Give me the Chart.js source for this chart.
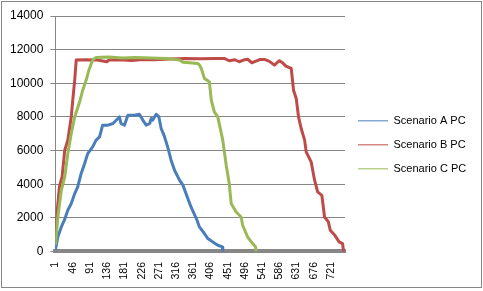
<!DOCTYPE html>
<html>
<head>
<meta charset="utf-8">
<script src="https://cdn.jsdelivr.net/npm/chart.js@4.4.1/dist/chart.umd.min.js"></script>
<style>
  body { margin: 0; background: #fff; }
  #wrap { position: relative; width: 483px; height: 291px; }
  #frame { position: absolute; left: 1px; top: 1px; width: 479px; height: 285px; border: 1px solid #868686; pointer-events: none; }
</style>
</head>
<body>
<div id="wrap">
  <canvas id="chart" width="483" height="291"></canvas>
  <div id="frame"></div>
</div>
<script>
// tick labels
const xTicks = [1, 46, 91, 136, 181, 226, 271, 316, 361, 406, 451, 496, 541, 586, 631, 676, 721];
const yTicks = [0, 2000, 4000, 6000, 8000, 10000, 12000, 14000];

// Scenario A PC (category index, value)
const scenA_x = [1, 7, 16, 24, 33, 42, 51, 59, 68, 77, 85, 98, 107, 116, 124, 138, 151, 164, 168, 172, 181, 190, 207, 220, 229, 238, 247, 251, 255, 264, 271, 277, 286, 294, 303, 312, 325, 334, 342, 355, 369, 377, 390, 399, 412, 425, 437, 438];
const scenA_y = [170, 860, 1460, 1860, 2450, 2850, 3440, 3840, 4640, 5230, 5820, 6220, 6620, 6810, 7510, 7510, 7610, 7910, 8000, 7610, 7510, 8100, 8100, 8160, 7810, 7510, 7610, 7910, 7810, 8160, 8000, 7310, 6810, 6220, 5430, 4830, 4240, 3940, 3440, 2650, 1960, 1460, 1070, 770, 570, 370, 270, 0];

// Scenario B PC
const scenB_x = [1, 4, 11, 18, 25, 33, 42, 46, 51, 55, 80, 110, 135, 140, 170, 200, 230, 260, 300, 340, 380, 420, 442, 455, 470, 481, 492, 503, 514, 525, 536, 547, 560, 573, 586, 595, 603, 617, 623, 630, 636, 643, 652, 656, 669, 678, 686, 697, 704, 714, 719, 731, 742, 751, 754];
const scenB_y = [900, 2050, 3840, 4430, 6020, 6620, 8000, 9000, 10190, 11380, 11400, 11380, 11280, 11380, 11400, 11350, 11420, 11400, 11450, 11480, 11460, 11480, 11480, 11340, 11400, 11280, 11380, 11430, 11220, 11320, 11420, 11420, 11300, 11080, 11340, 11200, 11020, 10880, 9590, 9100, 8000, 7310, 6620, 5920, 5330, 4240, 3540, 3340, 2050, 1760, 1260, 960, 570, 470, 0];

// Scenario C PC
const scenC_x = [1, 7, 16, 25, 33, 42, 51, 64, 72, 81, 88, 98, 107, 140, 175, 210, 250, 290, 325, 334, 351, 373, 377, 382, 390, 403, 408, 416, 425, 438, 447, 455, 460, 473, 486, 490, 503, 516, 524, 525];
const scenC_y = [470, 2050, 3640, 4430, 5820, 7010, 8000, 8900, 9590, 10190, 10780, 11380, 11540, 11560, 11500, 11540, 11500, 11480, 11380, 11250, 11220, 11180, 11080, 10880, 10290, 10090, 9000, 8300, 8000, 6620, 5130, 4040, 2850, 2350, 2050, 1560, 860, 470, 270, 0];

function toPoints(xs, ys) {
    return xs.map((x, i) => ({x: x, y: ys[i]}));
}

const gridGray = '#868686';

// the right legend box is capped at a quarter of the width, let its text run to the edge
const legendRoom = {
    id: 'legendRoom',
    afterLayout(chart) {
        chart.legend.right = chart.width;
        chart.legend.width = chart.legend.right - chart.legend.left;
    }
};

const data = {
    datasets: [
        { label: 'Scenario A PC', data: toPoints(scenA_x, scenA_y), borderColor: '#4a7ebb', backgroundColor: '#4a7ebb', order: 3 },
        { label: 'Scenario B PC', data: toPoints(scenB_x, scenB_y), borderColor: '#be4b48', backgroundColor: '#be4b48', order: 2 },
        { label: 'Scenario C PC', data: toPoints(scenC_x, scenC_y), borderColor: '#98b954', backgroundColor: '#98b954', order: 1 }
    ]
};

const config = {
    type: 'line',
    data: data,
    plugins: [legendRoom],
    options: {
        responsive: false,
        animation: false,
        devicePixelRatio: 1,
        layout: { padding: { left: 3, top: 16, right: 24, bottom: 1 } },
        elements: {
            line: { borderWidth: 3, tension: 0, borderJoinStyle: 'round', borderCapStyle: 'round' },
            point: { radius: 0 }
        },
        plugins: {
            legend: {
                position: 'right',
                fullSize: false,
                title: { display: true, text: '', font: { size: 11 }, padding: { top: 9, bottom: 0 } },
                labels: {
                    usePointStyle: true,
                    pointStyle: 'line',
                    pointStyleWidth: 30,
                    padding: 13,
                    color: '#000',
                    font: { family: 'Liberation Sans', size: 11 },
                    sort: (a, b) => a.datasetIndex - b.datasetIndex
                }
            },
            tooltip: { enabled: false }
        },
        scales: {
            x: {
                type: 'linear',
                min: 0.5,
                max: 757.5,
                afterBuildTicks: axis => { axis.ticks = xTicks.map(v => ({value: v})); },
                ticks: {
                    autoSkip: false,
                    minRotation: 90,
                    maxRotation: 90,
                    padding: 10.5,
                    color: '#000',
                    font: { family: 'Liberation Sans', size: 10.5 },
                    callback: v => String(v)
                },
                grid: { display: false, drawTicks: false },
                border: { display: true, color: '#878787', width: 4 }
            },
            y: {
                min: 0,
                max: 14000,
                afterBuildTicks: axis => { axis.ticks = yTicks.map(v => ({value: v})); },
                ticks: {
                    padding: 7,
                    color: '#000',
                    font: { family: 'Liberation Sans', size: 12 },
                    callback: v => String(v)
                },
                grid: { color: gridGray, tickLength: 5, drawTicks: true },
                border: { color: gridGray, width: 1 }
            }
        }
    }
};

const chart = new Chart(document.getElementById('chart'), config);
</script>
</body>
</html>
